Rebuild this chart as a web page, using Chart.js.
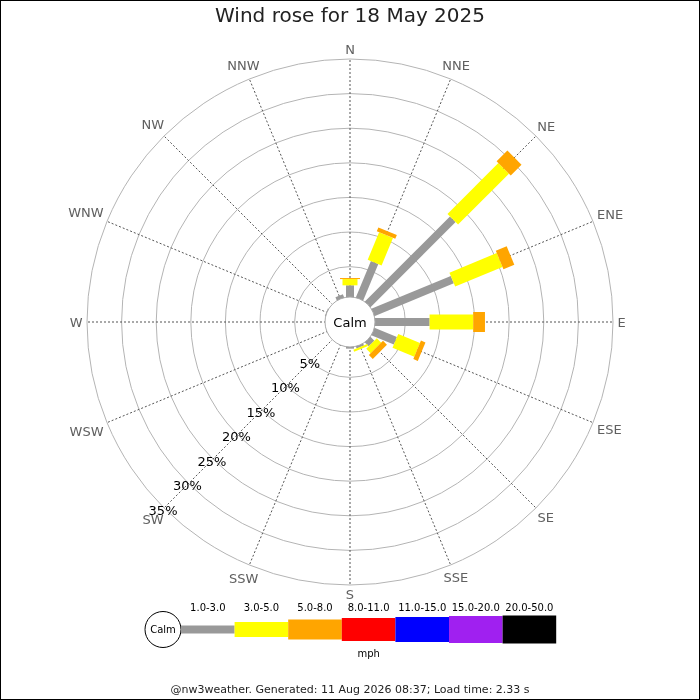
<!DOCTYPE html>
<html>
<head>
<meta charset="utf-8">
<title>Wind rose for 18 May 2025</title>
<script src="https://cdn.jsdelivr.net/npm/chart.js@4.4.1/dist/chart.umd.min.js"></script>
<style>
    html, body { margin: 0; padding: 0; background: #fff; }
    #wrap { width: 700px; height: 700px; }
</style>
</head>
<body>
<div id="wrap"><canvas id="roseChart" width="700" height="700"></canvas></div>
<script>
const directions = ["N", "NNE", "NE", "ENE", "E", "ESE", "SE", "SSE", "S", "SSW", "SW", "WSW", "W", "WNW", "NW", "NNW"];
const speedBands = ["1.0-3.0", "3.0-5.0", "5.0-8.0", "8.0-11.0", "11.0-15.0", "15.0-20.0", "20.0-50.0"];

// % of the day from each direction, one list per speed band (mph)
const band1to3   = [2.3, 6.3, 18.0, 13.0, 8.5, 4.1, 1.4, 0.9, 0.85, 0, 0, 0, 0, 0.7, 0, 1.1];
const band3to5   = [0.9, 4.3, 10.4, 7.4, 6.3, 3.4, 0.9, 0.3, 0, 0, 0, 0, 0, 0, 0, 0];
const band5to8   = [0.15, 0.6, 2.2, 1.7, 1.7, 0.7, 0.8, 0, 0, 0, 0, 0, 0, 0, 0, 0];
const band8to11  = [0, 0, 0, 0, 0, 0, 0, 0, 0, 0, 0, 0, 0, 0, 0, 0];
const band11to15 = [0, 0, 0, 0, 0, 0, 0, 0, 0, 0, 0, 0, 0, 0, 0, 0];
const band15to20 = [0, 0, 0, 0, 0, 0, 0, 0, 0, 0, 0, 0, 0, 0, 0, 0];
const band20to50 = [0, 0, 0, 0, 0, 0, 0, 0, 0, 0, 0, 0, 0, 0, 0, 0];

const percentTicks = [0, 5, 10, 15, 20, 25, 30, 35];

const titleText = "Wind rose for 18 May 2025";
const footerText = "@nw3weather. Generated: 11 Aug 2026 08:37; Load time: 2.33 s";
const unitText = "mph";
const calmText = "Calm";

// styles
const bandColors = ["#999999", "#ffff00", "#ffa500", "#ff0000", "#0000ff", "#a020f0", "#000000"];
const bandWidths = [8, 15, 20, 23, 25, 27, 28];
const fontFamily = "'DejaVu Sans', Verdana, sans-serif";

const seriesList = [band1to3, band3to5, band5to8, band8to11, band11to15, band15to20, band20to50];

const rosePlugin = {
    id: "rose",
    afterDatasetsDraw(chart) {
        const scale = chart.scales.r;
        const c = chart.ctx;

        // stacked bars, one per direction
        chart.data.labels.forEach((lab, i) => {
            const angle = scale.getIndexAngle(i);
            let total = 0;
            chart.data.datasets.forEach((ds, b) => {
                const v = ds.data[i];
                if (!v) return;
                const r0 = scale.getDistanceFromCenterForValue(total);
                total += v;
                const r1 = scale.getDistanceFromCenterForValue(total);
                const w = bandWidths[b];
                c.save();
                c.translate(scale.xCenter, scale.yCenter);
                c.rotate(angle);
                c.fillStyle = ds.backgroundColor;
                c.fillRect(-w / 2, -r1, w, r1 - r0);
                c.restore();
            });
        });

        // calm circle in the middle
        c.save();
        c.beginPath();
        c.arc(scale.xCenter, scale.yCenter, 25, 0, Math.PI * 2);
        c.fillStyle = "#fff";
        c.fill();
        c.strokeStyle = "#aaa";
        c.lineWidth = 1;
        c.stroke();
        c.fillStyle = "#000";
        c.font = "13px " + fontFamily;
        c.textAlign = "center";
        c.textBaseline = "alphabetic";
        c.fillText(calmText, scale.xCenter, scale.yCenter + 5);

        // percent labels along the SW spoke
        const swIndex = directions.indexOf("SW");
        percentTicks.forEach(t => {
            if (t === 0) return;
            const p = scale.getPointPosition(swIndex, scale.getDistanceFromCenterForValue(t));
            c.fillText(t + "%", p.x - 1, p.y + 2 + 4.7);
        });

        // compass labels
        c.fillStyle = "#606060";
        directions.forEach((d, i) => {
            const a = scale.getIndexAngle(i) - Math.PI / 2;
            const ux = Math.cos(a), uy = Math.sin(a);
            const tw = c.measureText(d).width;
            const dist = scale.drawingArea + 4.5 + (tw / 2) * Math.abs(ux) + 5 * Math.abs(uy);
            c.fillText(d, scale.xCenter + ux * dist, scale.yCenter + uy * dist + 4.7);
        });

        // speed legend
        const legY = 629.5;
        const legX = 181;
        const segW = 53.6;
        c.beginPath();
        c.arc(163, legY, 18, 0, Math.PI * 2);
        c.fillStyle = "#fff";
        c.fill();
        c.strokeStyle = "#000";
        c.stroke();
        c.fillStyle = "#000";
        c.font = "10px " + fontFamily;
        c.fillText(calmText, 163, legY + 3.6);
        speedBands.forEach((label, b) => {
            const x = legX + b * segW;
            c.fillStyle = bandColors[b];
            c.fillRect(x, legY - bandWidths[b] / 2, segW, bandWidths[b]);
            c.fillStyle = "#000";
            c.fillText(label, x + segW / 2, 611);
        });
        c.fillText(unitText, legX + segW * speedBands.length / 2, 657);

        // frame
        c.strokeStyle = "#000";
        c.lineWidth = 1;
        c.strokeRect(0.5, 0.5, chart.width - 1, chart.height - 1);
        c.restore();
    }
};

const ctx = document.getElementById("roseChart").getContext("2d");
new Chart(ctx, {
    type: "radar",
    data: {
        labels: directions,
        datasets: seriesList.map((vals, i) => ({
            label: speedBands[i],
            data: vals,
            showLine: false,
            fill: false,
            pointRadius: 0,
            pointHoverRadius: 0,
            borderWidth: 0,
            backgroundColor: bandColors[i],
            borderColor: bandColors[i]
        }))
    },
    options: {
        responsive: false,
        animation: false,
        events: [],
        layout: { padding: { left: 87, right: 87, top: 0, bottom: 0 } },
        plugins: {
            legend: { display: false },
            tooltip: { enabled: false },
            filler: { propagate: false },
            title: {
                display: true,
                text: titleText,
                color: "#222",
                font: { family: fontFamily, size: 20, weight: "normal" },
                padding: { top: 5, bottom: 30 }
            },
            subtitle: {
                display: true,
                position: "bottom",
                text: footerText,
                color: "#222",
                font: { family: fontFamily, size: 11, weight: "normal" },
                padding: { top: 98.8, bottom: 3 }
            }
        },
        scales: {
            r: {
                min: -3,
                max: 35,
                startAngle: 0,
                afterBuildTicks: scale => {
                    scale.ticks = percentTicks.map(v => ({ value: v }));
                },
                ticks: { display: false },
                pointLabels: { display: false },
                grid: { circular: true, color: "#b4b4b4", lineWidth: 1 },
                angleLines: { color: "#555", lineWidth: 1, borderDash: [2, 2] }
            }
        }
    },
    plugins: [rosePlugin]
});
</script>
</body>
</html>
